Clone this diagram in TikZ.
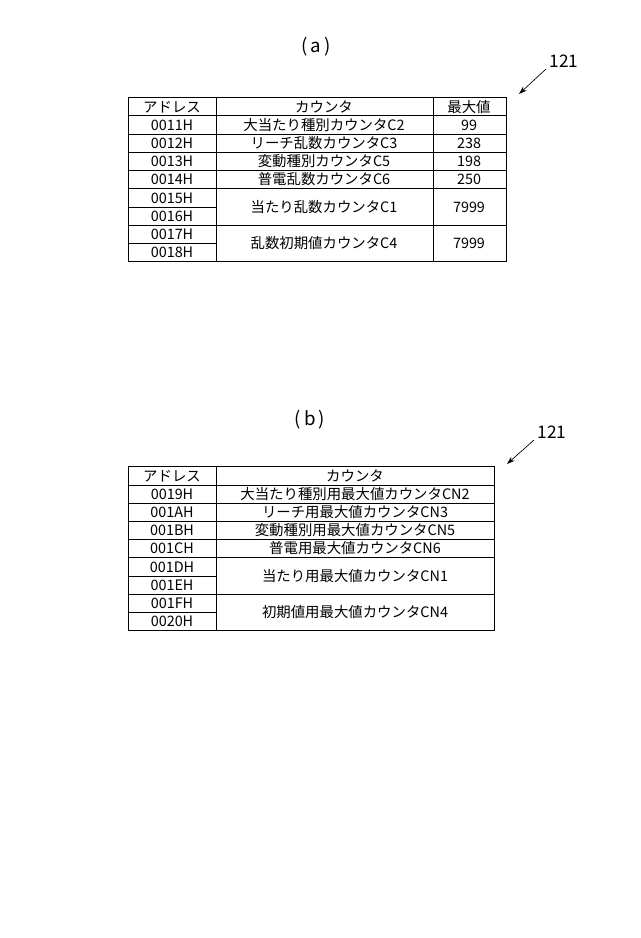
\documentclass[tikz,border=0pt]{standalone}
\usepackage{fontspec}
\setmainfont{Noto Sans CJK JP}
\usepackage{tikz}
\usetikzlibrary{positioning,arrows.meta}

\tikzset{
  cell/.style={font=\fontsize{10.8}{12}\selectfont, inner sep=0pt},
  grid/.style={line width=0.6pt},
  ref/.style={->, >={Stealth[length=6pt,width=4pt]}, line width=0.5pt}
}

\begin{document}
\begin{tikzpicture}[x=0.75pt, y=-0.75pt]

        \useasboundingbox (0,0) rectangle (640,938);

        % (a)
        \node[cell, font=\fontsize{14}{16}\selectfont] (ta) at (316,47) {(\,a\,)};
        \node[cell, font=\fontsize{13}{15}\selectfont] (na) at (564,61) {121};
        \coordinate (pa) at (546,69);
        \coordinate (qa) at (519,94);
        \draw[ref] (pa) -- (qa);

        \draw[grid] (128,97) rectangle (506,261);
        \draw[grid] (216,97) -- (216,261);
        \draw[grid] (433,97) -- (433,261);
        \foreach \y in {115.5,134,152,170.5,188.5,225} \draw[grid] (128,\y) -- (506,\y);
        \foreach \y in {207,243} \draw[grid] (128,\y) -- (216,\y);

        \node[cell] (ha1) at (172,107) {アドレス};
        \node[cell] (ha2) at (324,107) {カウンタ};
        \node[cell] (ha3) at (469,107) {最大値};
        \foreach \a/\y in {0011H/125,0012H/143,0013H/161.5,0014H/179.5,0015H/198,0016H/216,0017H/234,0018H/252}
            \node[cell] (a\a) at (172,\y) {\a};
        \foreach \c/\m/\y in {大当たり種別カウンタC2/99/125,リーチ乱数カウンタC3/238/143,変動種別カウンタC5/198/161.5,普電乱数カウンタC6/250/179.5,当たり乱数カウンタC1/7999/207,乱数初期値カウンタC4/7999/243}
            \node[cell] (c\y) at (324,\y) {\c} node[cell] (m\y) at (469,\y) {\m};

        % (b)
        \node[cell, font=\fontsize{14}{16}\selectfont] (tb) at (310,420) {(\,b\,)};
        \node[cell, font=\fontsize{13}{15}\selectfont] (nb) at (552,432) {121};
        \coordinate (pb) at (534,440);
        \coordinate (qb) at (507,464);
        \draw[ref] (pb) -- (qb);

        \draw[grid] (128,466) rectangle (494,630);
        \draw[grid] (216,466) -- (216,630);
        \foreach \y in {485,503,521,539.5,557.5,594} \draw[grid] (128,\y) -- (494,\y);
        \foreach \y in {576,612} \draw[grid] (128,\y) -- (216,\y);

        \node[cell] (hb1) at (172,476) {アドレス};
        \node[cell] (hb2) at (355,476) {カウンタ};
        \foreach \a/\y in {0019H/494,001AH/512,001BH/530,001CH/548.5,001DH/567,001EH/585,001FH/603,0020H/621}
            \node[cell] (b\a) at (172,\y) {\a};
        \foreach \c/\y in {大当たり種別用最大値カウンタCN2/494,リーチ用最大値カウンタCN3/512,変動種別用最大値カウンタCN5/530,普電用最大値カウンタCN6/548.5,当たり用最大値カウンタCN1/576,初期値用最大値カウンタCN4/612}
            \node[cell] (d\y) at (355,\y) {\c};

\end{tikzpicture}
\end{document}
